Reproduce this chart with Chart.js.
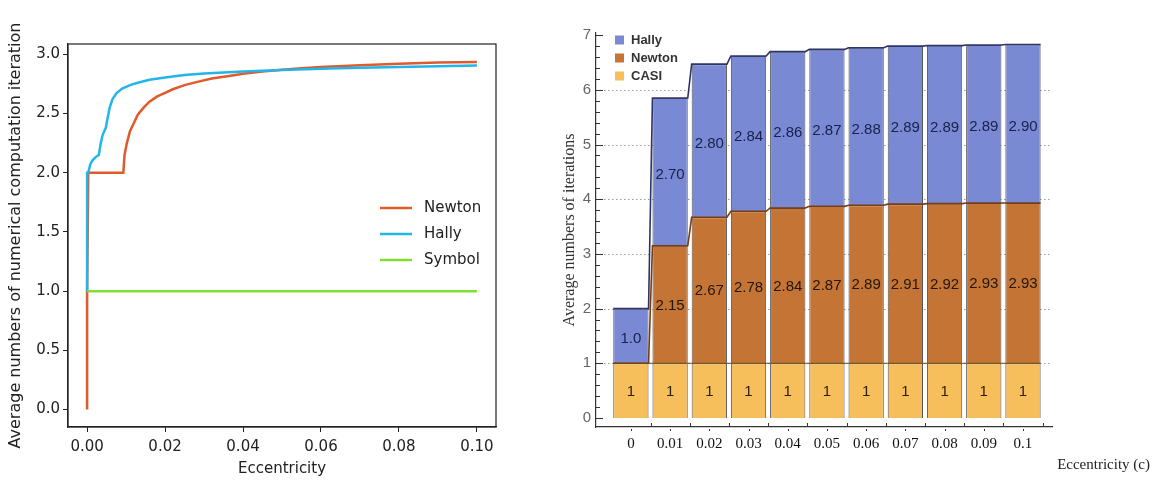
<!DOCTYPE html>
<html>
<head>
<meta charset="utf-8">
<script src="https://cdn.jsdelivr.net/npm/chart.js@4.4.1/dist/chart.umd.min.js"></script>
<style>
html, body { margin: 0; padding: 0; background: #fff; }
#wrap { position: relative; width: 1154px; height: 481px; }
#left { position: absolute; left: 0; top: 0; width: 560px; height: 481px; }
#right { position: absolute; left: 560px; top: 0; width: 594px; height: 481px; }
</style>
</head>
<body>
<div id="wrap">
  <div id="left"><canvas id="lineChart"></canvas></div>
  <div id="right"><canvas id="barChart"></canvas></div>
</div>
<script>
// ---- left panel: curves ----
var newtonX = [0, 0, 0.0003, 0.0093, 0.0096, 0.0102, 0.011, 0.012, 0.013, 0.0145, 0.016, 0.018, 0.02, 0.022, 0.025, 0.028, 0.032, 0.036, 0.04, 0.045, 0.05, 0.055, 0.06, 0.07, 0.08, 0.09, 0.1];
var newtonY = [0, 1, 2.0, 2.0, 2.15, 2.25, 2.35, 2.42, 2.49, 2.55, 2.6, 2.645, 2.675, 2.705, 2.74, 2.765, 2.795, 2.815, 2.835, 2.855, 2.87, 2.882, 2.893, 2.908, 2.92, 2.93, 2.935];
var hallyX = [0, 0, 0.0003, 0.0008, 0.0015, 0.0025, 0.003, 0.0035, 0.004, 0.0048, 0.0052, 0.0058, 0.0065, 0.0075, 0.009, 0.011, 0.013, 0.016, 0.02, 0.025, 0.03, 0.04, 0.05, 0.06, 0.07, 0.08, 0.09, 0.1];
var hallyY = [1, 2, 2.0, 2.07, 2.11, 2.14, 2.15, 2.25, 2.32, 2.38, 2.45, 2.55, 2.62, 2.67, 2.71, 2.74, 2.76, 2.785, 2.805, 2.825, 2.838, 2.855, 2.868, 2.878, 2.886, 2.893, 2.899, 2.905];
var symbolX = [0, 0.1];
var symbolY = [1, 1];
var lineXTicks = [0, 0.02, 0.04, 0.06, 0.08, 0.1];
var lineYTicks = [0, 0.5, 1, 1.5, 2, 2.5, 3];

// ---- right panel: stacked bars ----
var eccValues = [0, 0.01, 0.02, 0.03, 0.04, 0.05, 0.06, 0.07, 0.08, 0.09, 0.1];
var eccLabels = ['0', '0.01', '0.02', '0.03', '0.04', '0.05', '0.06', '0.07', '0.08', '0.09', '0.1'];
var casiIter = [1, 1, 1, 1, 1, 1, 1, 1, 1, 1, 1];
var newtonIter = [0, 2.15, 2.67, 2.78, 2.84, 2.87, 2.89, 2.91, 2.92, 2.93, 2.93];
var hallyIter = [1.0, 2.70, 2.80, 2.84, 2.86, 2.87, 2.88, 2.89, 2.89, 2.89, 2.90];
var barYTicks = [0, 1, 2, 3, 4, 5, 6, 7];

function toPoints(xs, ys) {
    return xs.map(function(x, i) { return { x: x, y: ys[i] }; });
}

var boxPlugin = {
    id: 'box',
    afterDraw: function(chart) {
        var a = chart.chartArea, ctx = chart.ctx;
        ctx.save();
        ctx.strokeStyle = '#222';
        ctx.lineWidth = 1.2;
        ctx.strokeRect(a.left, a.top, a.right - a.left, a.bottom - a.top);
        ctx.restore();
    }
};

var lineLegend = {
    id: 'lineLegend',
    afterDraw: function(chart) {
        var ctx = chart.ctx;
        ctx.save();
        ctx.font = '15px "DejaVu Sans"';
        ctx.textBaseline = 'middle';
        chart.data.datasets.forEach(function(ds, i) {
            var y = 208 + i * 26;
            ctx.strokeStyle = ds.borderColor;
            ctx.lineWidth = 2.5;
            ctx.beginPath();
            ctx.moveTo(380, y);
            ctx.lineTo(412, y);
            ctx.stroke();
            ctx.fillStyle = '#222';
            ctx.fillText(ds.label, 424, y);
        });
        ctx.restore();
    }
};

new Chart(document.getElementById('lineChart'), {
    type: 'line',
    data: {
        datasets: [{
            label: 'Newton',
            data: toPoints(newtonX, newtonY),
            borderColor: '#e05a2b',
            borderWidth: 2.5,
            pointRadius: 0,
            order: 2
        }, {
            label: 'Hally',
            data: toPoints(hallyX, hallyY),
            borderColor: '#22b6e8',
            borderWidth: 2.5,
            pointRadius: 0,
            order: 1
        }, {
            label: 'Symbol',
            data: toPoints(symbolX, symbolY),
            borderColor: '#7ee030',
            borderWidth: 2.5,
            pointRadius: 0,
            order: 0
        }]
    },
    options: {
        responsive: true,
        maintainAspectRatio: false,
        animation: false,
        layout: { padding: { top: 44, right: 64, left: 0, bottom: 0 } },
        plugins: { legend: { display: false }, tooltip: { enabled: false } },
        scales: {
            x: {
                type: 'linear',
                min: -0.0049,
                max: 0.1049,
                afterBuildTicks: function(scale) {
                    scale.ticks = lineXTicks.map(function(v) { return { value: v }; });
                },
                afterFit: function(scale) { scale.height = 54; },
                grid: { drawOnChartArea: false, drawTicks: true, tickLength: 5, color: '#222' },
                border: { color: '#222', width: 1.2 },
                ticks: {
                    color: '#222',
                    padding: 6,
                    font: { family: 'DejaVu Sans', size: 15 },
                    callback: function(v) { return v.toFixed(2); }
                },
                title: {
                    display: true,
                    text: 'Eccentricity',
                    color: '#222',
                    font: { family: 'DejaVu Sans', size: 15 },
                    padding: { top: 0, bottom: 3 }
                }
            },
            y: {
                type: 'linear',
                min: -0.147,
                max: 3.087,
                afterBuildTicks: function(scale) {
                    scale.ticks = lineYTicks.map(function(v) { return { value: v }; });
                },
                afterFit: function(scale) { scale.width = 68; },
                grid: { drawOnChartArea: false, drawTicks: true, tickLength: 5, color: '#222' },
                border: { color: '#222', width: 1.2 },
                ticks: {
                    color: '#222',
                    padding: 3,
                    font: { family: 'DejaVu Sans', size: 15 },
                    callback: function(v) { return v.toFixed(1); }
                },
                title: {
                    display: true,
                    text: 'Average numbers of numerical computation iteration',
                    color: '#222',
                    font: { family: 'DejaVu Sans', size: 16 },
                    padding: { top: 6, bottom: 2 }
                }
            }
        }
    },
    plugins: [boxPlugin, lineLegend]
});

// edge colours for the top outline of each stacked segment
var edgeColors = ['#6b4a18', '#7a3c12', '#2c3468'];
var labelColors = ['#2a1e08', '#24160a', '#18214a'];

var barDecor = {
    id: 'barDecor',
    beforeDatasetsDraw: function(chart) {
        var ctx = chart.ctx, a = chart.chartArea, ys = chart.scales.y;
        ctx.save();
        ctx.strokeStyle = '#9a9a9a';
        ctx.lineWidth = 1;
        ctx.setLineDash([1.5, 2.5]);
        for (var v = 1; v <= 6; v++) {
            var py = Math.round(ys.getPixelForValue(v)) + 0.5;
            ctx.beginPath();
            ctx.moveTo(a.left, py);
            ctx.lineTo(a.right, py);
            ctx.stroke();
        }
        ctx.restore();
    },
    afterDatasetsDraw: function(chart) {
        var ctx = chart.ctx;
        ctx.save();
        // top outlines and connectors between neighbouring bars
        chart.data.datasets.forEach(function(ds, di) {
            var els = chart.getDatasetMeta(di).data;
            ctx.strokeStyle = edgeColors[di];
            ctx.lineWidth = di === 0 ? 1 : 1.6;
            ctx.beginPath();
            els.forEach(function(el, i) {
                var p = el.getProps(['x', 'y', 'width'], true);
                if (i === 0) ctx.moveTo(p.x - p.width / 2, p.y);
                else ctx.lineTo(p.x - p.width / 2, p.y);
                ctx.lineTo(p.x + p.width / 2, p.y);
            });
            ctx.stroke();
        });
        // value labels
        ctx.font = '15px Arial';
        ctx.textAlign = 'center';
        ctx.textBaseline = 'middle';
        chart.data.datasets.forEach(function(ds, di) {
            var els = chart.getDatasetMeta(di).data;
            ctx.fillStyle = labelColors[di];
            els.forEach(function(el, i) {
                var v = ds.data[i].y;
                if (!v) return;
                var p = el.getProps(['x', 'y', 'base'], true);
                var txt = di === 0 ? String(v) : (v === 1 ? '1.0' : v.toFixed(2));
                ctx.fillText(txt, p.x, (p.y + p.base) / 2 + (di === 2 ? 3 : 1));
            });
        });
        ctx.restore();
    },
    afterDraw: function(chart) {
        var ctx = chart.ctx, a = chart.chartArea;
        var xs = chart.scales.x, ys = chart.scales.y;
        ctx.save();
        // minor ticks on the value axis, pointing inwards
        ctx.strokeStyle = '#333';
        ctx.lineWidth = 1;
        for (var k = 0; k <= 35; k++) {
            var py = Math.round(ys.getPixelForValue(k * 0.2)) + 0.5;
            var len = k % 5 === 0 ? 7 : 4;
            ctx.beginPath();
            ctx.moveTo(a.left, py);
            ctx.lineTo(a.left + len, py);
            ctx.stroke();
        }
        // small ticks on the category axis between bars
        eccValues.forEach(function(v) {
            var px = Math.round(xs.getPixelForValue(v + 0.005)) + 0.5;
            ctx.beginPath();
            ctx.moveTo(px, a.bottom);
            ctx.lineTo(px, a.bottom - 4);
            ctx.stroke();
            var cx = Math.round(xs.getPixelForValue(v)) + 0.5;
            ctx.beginPath();
            ctx.moveTo(cx, a.bottom + 2);
            ctx.lineTo(cx, a.bottom + 4);
            ctx.stroke();
        });
        // legend, top-left inside the frame
        ctx.font = 'bold 13px Arial';
        ctx.textBaseline = 'middle';
        ctx.textAlign = 'left';
        var order = [2, 1, 0];
        order.forEach(function(di, i) {
            var ds = chart.data.datasets[di];
            var y = 40 + i * 18;
            ctx.fillStyle = ds.backgroundColor;
            ctx.fillRect(55, y - 4.5, 9, 9);
            ctx.fillStyle = '#333';
            ctx.fillText(ds.label, 71, y);
        });
        // axis title, bottom-right
        ctx.font = '15px "Liberation Serif"';
        ctx.textAlign = 'right';
        ctx.fillStyle = '#222';
        ctx.fillText('Eccentricity (c)', 590, 465);
        ctx.restore();
    }
};

new Chart(document.getElementById('barChart'), {
    type: 'bar',
    data: {
        datasets: [{
            label: 'CASI',
            data: toPoints(eccValues, casiIter),
            backgroundColor: '#f6bf5c',
            borderColor: '#555',
            borderWidth: 1
        }, {
            label: 'Newton',
            data: toPoints(eccValues, newtonIter),
            backgroundColor: '#c47434',
            borderColor: '#555',
            borderWidth: 1
        }, {
            label: 'Hally',
            data: toPoints(eccValues, hallyIter),
            backgroundColor: '#7a89d4',
            borderColor: '#555',
            borderWidth: 1
        }]
    },
    options: {
        responsive: true,
        maintainAspectRatio: false,
        animation: false,
        layout: { padding: { top: 33, right: 102, left: 0, bottom: 0 } },
        datasets: { bar: { categoryPercentage: 1, barPercentage: 0.9 } },
        plugins: { legend: { display: false }, tooltip: { enabled: false } },
        scales: {
            x: {
                type: 'linear',
                stacked: true,
                offset: false,
                min: -0.0089,
                max: 0.1074,
                afterBuildTicks: function(scale) {
                    scale.ticks = eccValues.map(function(v) { return { value: v }; });
                },
                afterFit: function(scale) { scale.height = 54; },
                grid: { display: false, drawTicks: false, offset: false },
                border: { color: '#333', width: 1.2 },
                ticks: {
                    color: '#111',
                    padding: 8,
                    font: { family: 'Liberation Serif', size: 15 },
                    callback: function(v, i) { return eccLabels[i]; }
                }
            },
            y: {
                type: 'linear',
                stacked: true,
                min: -0.165,
                max: 7.04,
                afterBuildTicks: function(scale) {
                    scale.ticks = barYTicks.map(function(v) { return { value: v }; });
                },
                afterFit: function(scale) { scale.width = 36; },
                grid: { display: false, drawTicks: false },
                border: { color: '#333', width: 1.2 },
                ticks: {
                    color: '#666',
                    padding: 5,
                    font: { family: 'Arial', size: 15 }
                },
                title: {
                    display: true,
                    text: 'Average numbers of iterations',
                    color: '#333',
                    font: { family: 'Liberation Serif', size: 16 },
                    padding: { top: 0, bottom: 2 }
                }
            }
        }
    },
    plugins: [barDecor]
});
</script>
</body>
</html>
